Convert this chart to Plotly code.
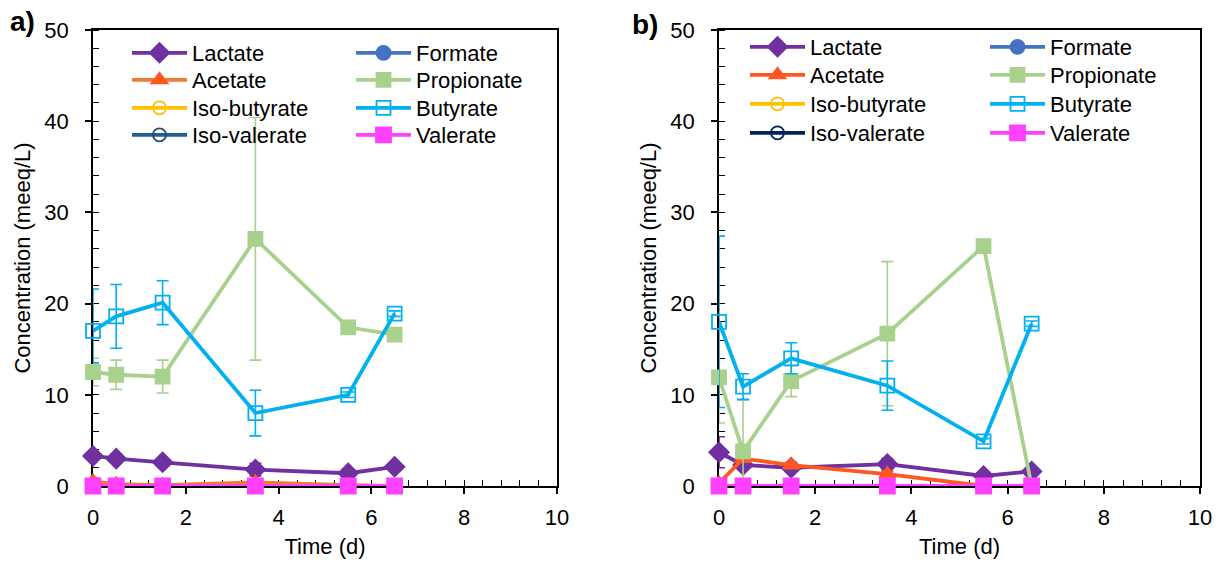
import plotly.graph_objects as go

# ---------------- data ----------------
time_d = [0, 0.5, 1.5, 3.5, 5.5, 6.5]

# panel a
lactate_a = [3.3, 3.0, 2.6, 1.8, 1.4, 2.1]
lactate_a_err = [0.4, 0.3, 0.2, 0.7, 0.2, 0.2]
formate_a = [0, 0, 0, 0, 0, 0]
acetate_a = [0.5, 0.2, 0.1, 0.4, 0.1, 0.0]
acetate_a_err = [0.4, 0.2, 0.1, 0.3, 0.1, 0.0]
propionate_a = [12.5, 12.2, 12.0, 27.1, 17.4, 16.6]
propionate_a_err = [1.5, 1.6, 1.8, 13.3, 0.3, 0.3]
isobutyrate_a = [0, 0, 0, 0, 0, 0]
butyrate_a = [17.0, 18.6, 20.1, 8.0, 10.0, 18.9]
butyrate_a_err_plus = [4.6, 3.5, 2.4, 2.5, 0.3, 0.3]
butyrate_a_err_minus = [3.5, 3.5, 2.4, 2.5, 0.3, 0.3]
isovalerate_a = [0, 0, 0, 0, 0, 0]
valerate_a = [0, 0, 0, 0, 0, 0]

# panel b
lactate_b = [3.7, 2.3, 2.0, 2.4, 1.1, 1.6]
lactate_b_err = [1.7, 0.3, 0.2, 0.6, 0.2, 0.2]
formate_b = [0, 0, 0, 0, 0, 0]
acetate_b = [0.3, 3.0, 2.3, 1.3, 0.0, 0.0]
acetate_b_err = [0.3, 0.3, 0.3, 0.3, 0.0, 0.0]
propionate_b = [11.9, 3.8, 11.5, 16.7, 26.3, 0.0]
propionate_b_err = [5.0, 5.6, 1.7, 7.9, 0.3, 0.0]
isobutyrate_b = [0, 0, 0, 0, 0, 0]
butyrate_b = [18.0, 10.9, 14.0, 11.0, 4.9, 17.8]
butyrate_b_err = [9.4, 1.4, 1.7, 2.7, 0.3, 0.3]
isovalerate_b = [0, 0, 0, 0, 0, 0]
valerate_b = [0, 0, 0, 0, 0, 0]

x_ticks = [0, 2, 4, 6, 8, 10]
y_ticks = [0, 10, 20, 30, 40, 50]

FONT = "Liberation Sans, Arial, sans-serif"
FS = 22

fig = go.Figure()


def add_series(name, y, color, symbol, xa, ya, legend, err=None, errminus=None,
               line_color=None, msize=14):
    kw = {}
    if err is not None:
        ed = dict(type="data", array=err, color=color, thickness=1.6, width=6, visible=True)
        if errminus is not None:
            ed["symmetric"] = False
            ed["arrayminus"] = errminus
        kw["error_y"] = ed
    fig.add_trace(go.Scatter(
        x=time_d, y=y, name=name, mode="lines+markers",
        line=dict(color=line_color or color, width=3.8),
        marker=dict(color=color, symbol=symbol, size=msize,
                    line=dict(color=color, width=1.8)),
        xaxis=xa, yaxis=ya, legend=legend, cliponaxis=False, **kw))


# panel a traces (legend rows: legend..legend4)
add_series("Lactate", lactate_a, "#7030A0", "diamond", "x", "y", "legend", lactate_a_err, msize=15)
add_series("Formate", formate_a, "#4472C4", "circle", "x", "y", "legend")
add_series("Acetate", acetate_a, "#FF5722", "triangle-up", "x", "y", "legend2", acetate_a_err,
           line_color="#ED7D31")
add_series("Propionate", propionate_a, "#A9D18E", "square", "x", "y", "legend2", propionate_a_err)
add_series("Iso-butyrate", isobutyrate_a, "#FFC000", "circle-open", "x", "y", "legend3", msize=13)
add_series("Butyrate", butyrate_a, "#00B0F0", "square-open", "x", "y", "legend3",
           butyrate_a_err_plus, butyrate_a_err_minus)
add_series("Iso-valerate", isovalerate_a, "#1F4E79", "circle-open", "x", "y", "legend4",
           line_color="#255E91", msize=13)
add_series("Valerate", valerate_a, "#FF40FF", "square", "x", "y", "legend4", msize=15)

# panel b traces (legend rows: legend5..legend8)
add_series("Lactate", lactate_b, "#7030A0", "diamond", "x2", "y2", "legend5", lactate_b_err, msize=15)
add_series("Formate", formate_b, "#4472C4", "circle", "x2", "y2", "legend5")
add_series("Acetate", acetate_b, "#FF5722", "triangle-up", "x2", "y2", "legend6", acetate_b_err)
add_series("Propionate", propionate_b, "#A9D18E", "square", "x2", "y2", "legend6", propionate_b_err)
add_series("Iso-butyrate", isobutyrate_b, "#FFC000", "circle-open", "x2", "y2", "legend7", msize=13)
add_series("Butyrate", butyrate_b, "#00B0F0", "square-open", "x2", "y2", "legend7", butyrate_b_err)
add_series("Iso-valerate", isovalerate_b, "#002060", "circle-open", "x2", "y2", "legend8", msize=13)
add_series("Valerate", valerate_b, "#FF40FF", "square", "x2", "y2", "legend8", msize=15)

W, H = 1222, 565
ya_dom = [1 - 486 / H, 1 - 30 / H]
xa_dom = [93 / W, 557 / W]
xb_dom = [719 / W, 1200 / W]

tickfont = dict(family=FONT, size=FS, color="#000")
titlefont = dict(family=FONT, size=FS, color="#000")


def xaxis(domain, anchor, title):
    return dict(domain=domain, anchor=anchor, range=[0, 10], tickvals=x_ticks,
                ticks="outside", ticklen=6, tickwidth=1.5, tickcolor="#000",
                showline=True, linecolor="#000", linewidth=1.5, mirror=True,
                showgrid=False, zeroline=False, tickfont=tickfont,
                ticklabelstandoff=5, layer="below traces",
                minor=dict(dtick=0.4, ticks="inside", ticklen=6, tickwidth=1.2,
                           tickcolor="#000", showgrid=False),
                title=dict(text=title, font=titlefont, standoff=9))


def yaxis(domain, anchor, title):
    return dict(domain=domain, anchor=anchor, range=[0, 50], tickvals=y_ticks,
                ticks="outside", ticklen=6, tickwidth=1.5, tickcolor="#000",
                showline=True, linecolor="#000", linewidth=1.5, mirror=True,
                showgrid=False, zeroline=False, tickfont=tickfont,
                ticklabelstandoff=12, layer="below traces",
                minor=dict(dtick=2, ticks="inside", ticklen=6, tickwidth=1.2,
                           tickcolor="#000", showgrid=False),
                title=dict(text=title, font=titlefont, standoff=8))


def x_overlay(over, anchor):
    return dict(overlaying=over, anchor=anchor, range=[0, 10], tickvals=x_ticks,
                ticks="inside", ticklen=6, tickwidth=1.5, tickcolor="#000",
                showticklabels=False, showline=False, showgrid=False, zeroline=False,
                side="bottom", layer="below traces")


def y_overlay(over, anchor):
    return dict(overlaying=over, anchor=anchor, range=[0, 50], tickvals=y_ticks,
                ticks="inside", ticklen=6, tickwidth=1.5, tickcolor="#000",
                showticklabels=False, showline=False, showgrid=False, zeroline=False,
                side="left", layer="below traces")


legfont = dict(family=FONT, size=FS, color="#000")
ITEMW = 55


def legend_row(x_text, y_center, entry_w):
    return dict(x=(x_text - ITEMW - 11) / W, y=1 - y_center / H, xanchor="left",
                yanchor="middle", orientation="h", bgcolor="rgba(0,0,0,0)",
                borderwidth=0, font=legfont, itemwidth=ITEMW,
                entrywidth=entry_w, entrywidthmode="pixels", itemsizing="trace")


rows_a = [53, 80, 108, 135]
rows_b = [47, 75, 104, 133]
ew_a = 224 - ITEMW - 15
ew_b = 240 - ITEMW - 15

layout_legends = {}
for i, yc in enumerate(rows_a):
    key = "legend" if i == 0 else f"legend{i + 1}"
    layout_legends[key] = legend_row(193, yc, ew_a)
for i, yc in enumerate(rows_b):
    layout_legends[f"legend{i + 5}"] = legend_row(811, yc, ew_b)

fig.update_layout(
    width=W, height=H,
    margin=dict(l=0, r=0, t=0, b=0, autoexpand=False),
    paper_bgcolor="white", plot_bgcolor="white",
    font=dict(family=FONT, size=FS, color="#000"),
    xaxis=xaxis(xa_dom, "y", "Time (d)"),
    yaxis=yaxis(ya_dom, "x", "Concentration (meeq/L)"),
    xaxis2=xaxis(xb_dom, "y2", "Time (d)"),
    yaxis2=yaxis(ya_dom, "x2", "Concentration (meeq/L)"),
    xaxis3=x_overlay("x", "y"),
    yaxis3=y_overlay("y", "x"),
    xaxis4=x_overlay("x2", "y2"),
    yaxis4=y_overlay("y2", "x2"),
    showlegend=True,
    annotations=[
        dict(text="<b>a)</b>", x=8 / W, y=1 - 22 / H, xref="paper", yref="paper",
             xanchor="left", yanchor="middle", showarrow=False,
             font=dict(family=FONT, size=28, color="#000")),
        dict(text="<b>b)</b>", x=630 / W, y=1 - 25 / H, xref="paper", yref="paper",
             xanchor="left", yanchor="middle", showarrow=False,
             font=dict(family=FONT, size=28, color="#000")),
    ],
    **layout_legends,
)

fig.write_html("out.html")
